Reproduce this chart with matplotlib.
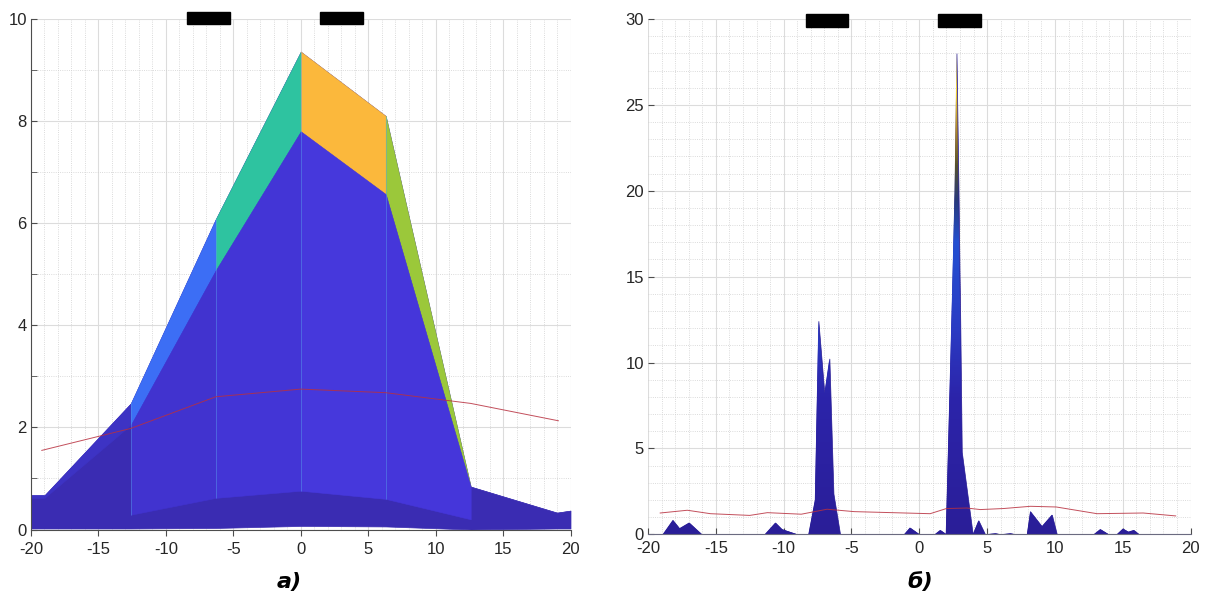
import numpy as np
import matplotlib.pyplot as plt
from matplotlib.colors import LinearSegmentedColormap
from matplotlib.patches import Polygon, Rectangle
from matplotlib.ticker import MultipleLocator

plt.rcParams['font.family'] = ['Liberation Sans', 'DejaVu Sans']
plt.rcParams['axes.unicode_minus'] = False

# ---- panel a): surface seen from the front (node x positions and heights)
xa = [-20, -19, -12.6, -6.3, 0, 6.3, 12.6, 19, 20]
top_a = [0.67, 0.67, 2.47, 6.08, 9.36, 8.1, 0.84, 0.33, 0.37]     # outer edge
inner_a = [0.62, 0.62, 2.05, 5.08, 7.8, 6.57, 0.84, 0.33, 0.37]   # lower edge of back facets
under_a = [0.62, 0.62, 0.29, 0.62, 0.76, 0.6, 0.2, 0.2, 0.2]      # lower edge of front facets
base_a = [0.02, 0.02, 0.02, 0.03, 0.07, 0.06, 0.0, 0.02, 0.02]
back_col = ['#3d33c4', '#3d33c4', '#3c6ef5', '#2ec3a0', '#fbb83c', '#9bc83a', '#3a2cb2', '#3a2cb2']
front_col = [None, None, '#4133cf', '#4335d6', '#4638dc', '#4536da', None, None]
red_xa = [-19.2, -12.6, -6.3, 0, 6.3, 12.6, 19.1]
red_ya = [1.55, 1.98, 2.6, 2.75, 2.68, 2.47, 2.13]

# ---- panel б): profile of the spectrum
xb = [-20, -18.92, -18.18, -17.69, -16.98, -16.04, -11.4, -10.62, -10.14, -9.0,
      -8.18, -7.7, -7.44, -7.0, -6.63, -6.33, -5.84, -1.13, -0.7, 0.0,
      1.13, 1.53, 1.9, 1.95, 2.4, 2.6, 2.74, 2.89, 2.97, 3.0,
      3.13, 3.94, 4.36, 4.85, 5.6, 6.0, 6.7, 7.1, 7.93, 8.17,
      9.03, 9.77, 10.14, 12.85, 13.33, 13.95, 14.55, 15.0, 15.4, 15.8,
      16.2, 20]
yb = [0, 0, 0.83, 0.35, 0.68, 0, 0, 0.68, 0.3, 0,
      0, 2.0, 12.42, 8.2, 10.23, 2.37, 0, 0, 0.39, 0,
      0, 0.25, 0.05, 0, 13.6, 20, 28, 20, 15, 13.6,
      4.8, 0, 0.81, 0, 0.06, 0, 0.06, 0, 0, 1.34,
      0.47, 1.14, 0, 0, 0.3, 0, 0, 0.33, 0.15, 0.25,
      0, 0]
red_xb = [-19.1, -17.1, -15.4, -12.5, -11.2, -8.7, -6.8, -4.8, -2.0, 0.8,
          2.0, 3.5, 4.5, 6.2, 8.2, 10.1, 13.1, 16.5, 18.9]
red_yb = [1.24, 1.4, 1.2, 1.1, 1.26, 1.17, 1.46, 1.32, 1.26, 1.2,
          1.5, 1.53, 1.44, 1.5, 1.63, 1.59, 1.2, 1.24, 1.07]

W, H = 1209, 598
fig = plt.figure(figsize=(W / 100, H / 100), dpi=100)
ax1 = fig.add_axes([31 / W, 1 - 529.5 / H, 539.5 / W, 510.5 / H])
ax2 = fig.add_axes([648 / W, 1 - 534.3 / H, 542.6 / W, 515.3 / H])


def style(ax, ymax, ymaj, ymin, xdir, ydir):
    ax.set_xlim(-20, 20)
    ax.set_ylim(0, ymax)
    ax.xaxis.set_major_locator(MultipleLocator(5))
    ax.xaxis.set_minor_locator(MultipleLocator(1))
    ax.yaxis.set_major_locator(MultipleLocator(ymaj))
    ax.yaxis.set_minor_locator(MultipleLocator(ymin))
    ax.set_axisbelow(True)
    ax.grid(which='major', color='#dcdcdc', lw=0.8)
    ax.grid(which='minor', color='#cfcfcf', lw=0.6, ls=':')
    for s in ['top', 'right']:
        ax.spines[s].set_visible(False)
    ax.spines['bottom'].set_color('#4d4d4d')
    ax.spines['left'].set_color('#4d4d4d')
    ax.tick_params(axis='x', which='major', direction=xdir, length=4, color='#4d4d4d',
                   labelsize=12, labelcolor='#262626', pad=5)
    ax.tick_params(axis='y', which='major', direction=ydir, length=4, color='#4d4d4d',
                   labelsize=12, labelcolor='#262626', pad=3)
    ax.tick_params(axis='x', which='minor', length=0)


style(ax1, 10, 2, 1, 'out', 'in')
ax1.tick_params(axis='y', which='minor', direction='in', length=4, color='#4d4d4d')
style(ax2, 30, 5, 1, 'in', 'in')
ax2.tick_params(axis='y', which='minor', length=0)
ax2.spines['left'].set_visible(False)
ax2.spines['bottom'].set_color('#6b6b80')

# panel a
ax1.fill_between(xa, base_a, top_a, color='#3a2cb2', lw=0.5, edgecolor='#3a2cb2')
for i in range(len(xa) - 1):
    seg = slice(i, i + 2)
    ax1.fill_between(xa[seg], inner_a[seg], top_a[seg], color=back_col[i],
                     lw=0.4, edgecolor=back_col[i])
    if front_col[i]:
        ax1.fill_between(xa[seg], under_a[seg], inner_a[seg], color=front_col[i],
                         lw=0.4, edgecolor=front_col[i])
ax1.vlines(xa[2:6], under_a[2:6], top_a[2:6], color='#5aa8f0', lw=0.6, alpha=0.5)
ax1.plot(red_xa, red_ya, color='#b8303f', lw=0.7, alpha=0.85)

# panel б
peaks = ax2.fill_between(xb, 0, yb, color='#2a1e98', lw=0.5, edgecolor='#2a1e98')
cmap = LinearSegmentedColormap.from_list('spike', [
    (0, '#2a1e98'), (8 / 28, '#2c24aa'), (12 / 28, '#2a3cc4'), (17 / 28, '#2450d2'),
    (19.5 / 28, '#283a78'), (21.5 / 28, '#55502e'), (23.5 / 28, '#b08a28'),
    (26 / 28, '#f2d23a'), (1, '#fff65a')])
clip = Polygon(np.column_stack([xb, yb]), closed=True, transform=ax2.transData)
img = ax2.imshow(np.linspace(0, 28, 500)[:, None], extent=[-20, 20, 0, 28], origin='lower',
                 aspect='auto', cmap=cmap, vmin=0, vmax=28, interpolation='bilinear',
                 zorder=2)
img.set_clip_path(clip)
ax2.set_xlim(-20, 20)
ax2.set_ylim(0, 30)
ax2.plot(red_xb, red_yb, color='#b8303f', lw=0.7, alpha=0.85, zorder=3)

# black blocks at the top of the picture
for x0, y0, x1, y1 in [(186.5, 11.7, 229.6, 24.3), (320, 11.7, 363, 24.3),
                       (805.6, 14, 848, 26.7), (937.7, 14, 980.5, 26.7)]:
    fig.patches.append(Rectangle((x0 / W, 1 - y1 / H), (x1 - x0) / W, (y1 - y0) / H,
                                 transform=fig.transFigure, color='black', zorder=10))

lab = dict(ha='center', va='center', fontsize=16, fontweight='bold', style='italic',
           family=['DejaVu Sans'])
fig.text(289 / W, 1 - 582 / H, 'а)', **lab)
fig.text(920 / W, 1 - 582 / H, 'б)', **lab)

fig.savefig('out.png', dpi=100)
